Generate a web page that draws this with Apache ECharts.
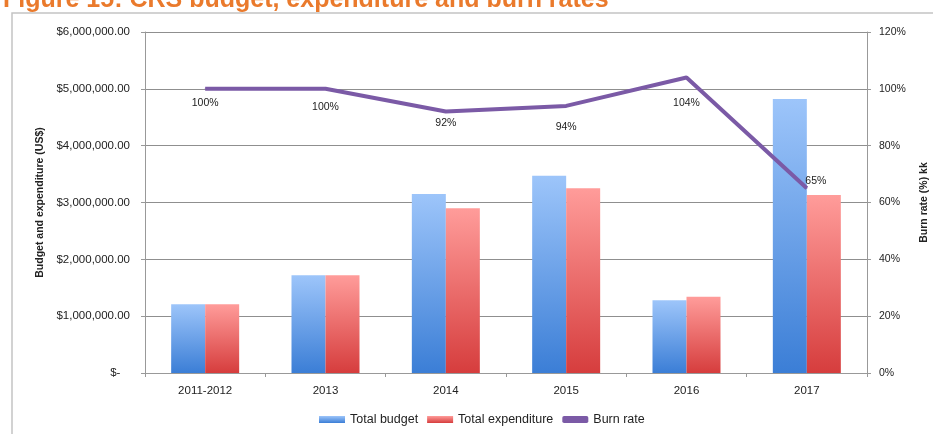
<!DOCTYPE html>
<html>
<head>
<meta charset="utf-8">
<script src="https://cdn.jsdelivr.net/npm/echarts@6/dist/echarts.min.js"></script>
<style>
  html, body { margin: 0; padding: 0; background: #fff; }
  #chart { width: 933px; height: 434px; }
</style>
</head>
<body>
<div id="chart"></div>
<script>
var years = ['2011-2012', '2013', '2014', '2015', '2016', '2017'];
var totalBudget = [1210000, 1720000, 3150000, 3470000, 1280000, 4820000];
var totalExpenditure = [1210000, 1720000, 2900000, 3250000, 1340000, 3130000];
var burnRate = [100, 100, 92, 94, 104, 65];

var font = "'Liberation Sans', sans-serif";

// gap between each burn-rate point and its label, as in the picture
var labelGap = [8, 12, 6, 15, 20];

function money (v) {
  if (v === 0) return '$-   ';
  return '$' + v.toLocaleString('en-US') + '.00';
}

var chart = echarts.init(document.getElementById('chart'));
chart.setOption({
  animation: false,
  textStyle: { fontFamily: font },
  title: {
    text: 'Figure 15: CRS budget, expenditure and burn rates',
    left: -2,
    top: -17,
    textStyle: { color: '#ea7a2c', fontSize: 25, fontWeight: 'bold', fontFamily: font }
  },
  graphic: [{
    type: 'rect',
    shape: { x: 12, y: 13, width: 940, height: 440 },
    style: { fill: 'none', stroke: '#c4c4c4', lineWidth: 1.5 },
    silent: true
  }],
  grid: { left: 145, right: 66, top: 32, bottom: 61, outerBoundsMode: 'none' },
  legend: {
    bottom: 3,
    left: 314,
    itemWidth: 26,
    itemHeight: 7,
    itemGap: 9,
    textStyle: { fontSize: 12.5, color: '#222', fontFamily: font },
    data: [
      { name: 'Total budget', icon: 'rect' },
      { name: 'Total expenditure', icon: 'rect' },
      { name: 'Burn rate', icon: 'roundRect' }
    ]
  },
  xAxis: {
    type: 'category',
    data: years,
    axisLine: { lineStyle: { color: '#999' } },
    axisTick: { show: true, length: 4, lineStyle: { color: '#999' } },
    axisLabel: { color: '#222', fontSize: 11.5, margin: 12 }
  },
  yAxis: [{
    type: 'value',
    min: 0,
    max: 6000000,
    interval: 1000000,
    name: 'Budget and expenditure (US$)',
    nameLocation: 'middle',
    nameGap: 98,
    nameRotate: 90,
    nameTextStyle: { fontSize: 10.5, fontWeight: 'bold', color: '#222' },
    axisLine: { show: true, lineStyle: { color: '#999' } },
    axisTick: { show: true, length: 4, lineStyle: { color: '#999' } },
    axisLabel: { color: '#222', fontSize: 11.5, formatter: money, margin: 15 },
    splitLine: { lineStyle: { color: '#8f8f8f' } }
  }, {
    type: 'value',
    min: 0,
    max: 120,
    interval: 20,
    name: 'Burn rate (%) kk',
    nameLocation: 'middle',
    nameGap: 52,
    nameRotate: 90,
    nameTextStyle: { fontSize: 10.5, fontWeight: 'bold', color: '#222' },
    axisLine: { show: true, lineStyle: { color: '#999' } },
    axisTick: { show: true, length: 4, lineStyle: { color: '#999' } },
    axisLabel: { color: '#222', fontSize: 10.5, formatter: '{value}%', margin: 12 },
    splitLine: { show: false }
  }],
  series: [{
    name: 'Total budget',
    type: 'bar',
    data: totalBudget,
    barWidth: 34,
    barGap: '0%',
    itemStyle: {
      color: {
        type: 'linear', x: 0, y: 0, x2: 0, y2: 1,
        colorStops: [{ offset: 0, color: '#9dc5fa' }, { offset: 1, color: '#3b7ed6' }]
      }
    }
  }, {
    name: 'Total expenditure',
    type: 'bar',
    data: totalExpenditure,
    barWidth: 34,
    itemStyle: {
      color: {
        type: 'linear', x: 0, y: 0, x2: 0, y2: 1,
        colorStops: [{ offset: 0, color: '#ff9c9a' }, { offset: 1, color: '#d63d3d' }]
      }
    }
  }, {
    name: 'Burn rate',
    type: 'line',
    yAxisIndex: 1,
    data: burnRate.map(function (v, i) {
      if (i === burnRate.length - 1) {
        return { value: v, label: { position: 'right', distance: 0, offset: [-2, -7] } };
      }
      return { value: v, label: { distance: labelGap[i] } };
    }),
    symbol: 'circle',
    symbolSize: 1,
    showAllSymbol: true,
    lineStyle: { color: '#7b5aa6', width: 4 },
    itemStyle: { color: '#7b5aa6' },
    label: {
      show: true,
      position: 'bottom',
      formatter: '{c}%',
      fontSize: 10.5,
      color: '#222'
    }
  }]
});
</script>
</body>
</html>
